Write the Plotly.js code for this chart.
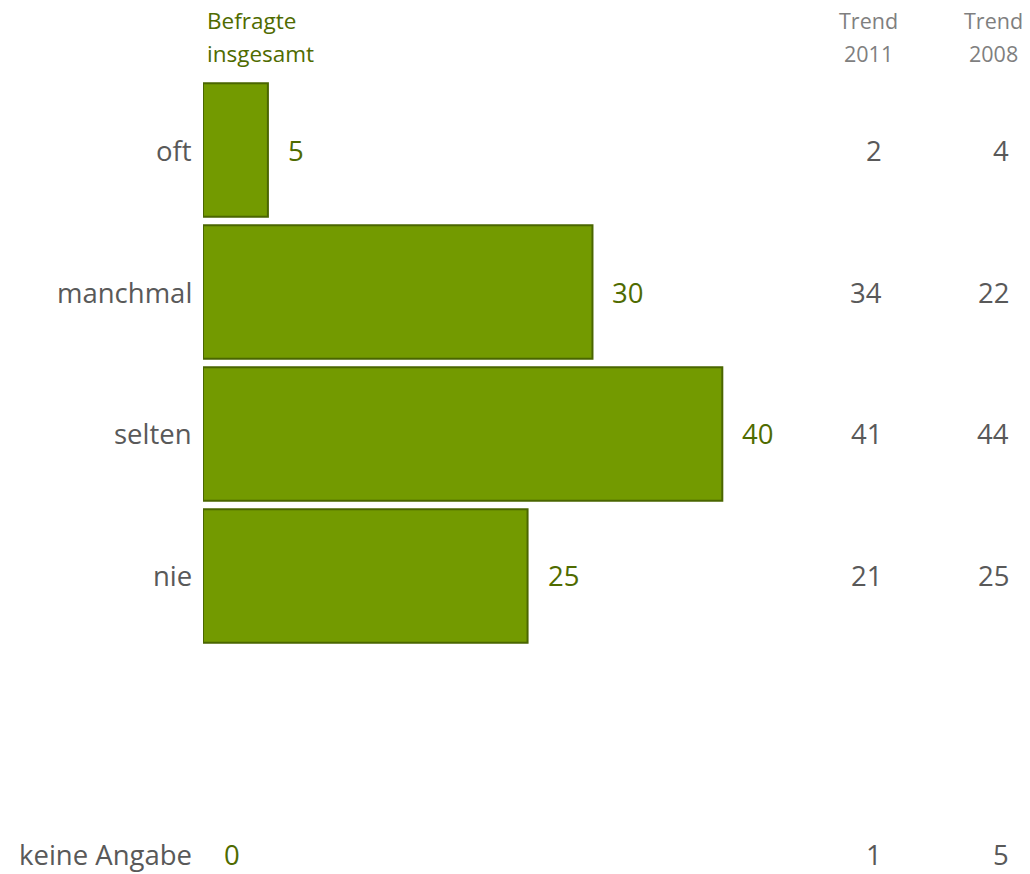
<!DOCTYPE html>
<html>
<head>
<meta charset="utf-8">
<script src="https://cdn.plot.ly/plotly-3.0.1.min.js"></script>
<style>html,body{margin:0;padding:0;background:#fff}#chart{width:1030px;height:874px}</style>
</head>
<body>
<div id="chart"></div>
<script>
const categories = ['oft', 'manchmal', 'selten', 'nie', 'keine Angabe'];
const totalValues = [5, 30, 40, 25, 0];
const trend2011 = [2, 34, 41, 21, 1];
const trend2008 = [4, 22, 44, 25, 5];
const headerTotal = ['Befragte', 'insgesamt'];
const header2011 = ['Trend', '2011'];
const header2008 = ['Trend', '2008'];
const categoryOrder = ['oft', 'manchmal', 'selten', 'nie', ' ', 'keine Angabe'];

const FONT = 'Open Sans, DejaVu Sans, sans-serif';
const GREEN_TEXT = '#4f6b00';
const GRAY = '#595959';
const LIGHT_GRAY = '#7f7f7f';
const VAL_SIZE = 27.5;

const annotations = [];
categories.forEach((c, i) => {
  const ys = (i === categories.length - 1) ? 5 : 0;
  annotations.push({
    x: 0, y: c, xref: 'paper', yref: 'y', yshift: ys,
    text: c, showarrow: false, xanchor: 'right', xshift: -9,
    font: {family: FONT, size: VAL_SIZE, color: GRAY}
  });
  annotations.push({
    x: totalValues[i], y: c, xref: 'x', yref: 'y', yshift: ys,
    text: String(totalValues[i]), showarrow: false,
    xanchor: 'left', xshift: totalValues[i] > 0 ? 18 : 19,
    font: {family: FONT, size: VAL_SIZE, color: GREEN_TEXT}
  });
  annotations.push({
    x: 0.823, y: c, xref: 'paper', yref: 'y', yshift: ys,
    text: String(trend2011[i]), showarrow: false, xanchor: 'right',
    font: {family: FONT, size: VAL_SIZE, color: GRAY}
  });
  annotations.push({
    x: 0.977, y: c, xref: 'paper', yref: 'y', yshift: ys,
    text: String(trend2008[i]), showarrow: false, xanchor: 'right',
    font: {family: FONT, size: VAL_SIZE, color: GRAY}
  });
});
const headerShifts = [52, 19];
headerTotal.forEach((t, k) => annotations.push({
  x: 0, y: 1, xref: 'x', yref: 'paper', text: t, showarrow: false,
  xanchor: 'left', yanchor: 'middle', xshift: 2, yshift: headerShifts[k],
  font: {family: FONT, size: 22.5, color: GREEN_TEXT}
}));
header2011.forEach((t, k) => annotations.push({
  x: 0.805, y: 1, xref: 'paper', yref: 'paper', text: t, showarrow: false,
  xanchor: 'center', yanchor: 'middle', yshift: headerShifts[k],
  font: {family: FONT, size: 21.5, color: LIGHT_GRAY}
}));
header2008.forEach((t, k) => annotations.push({
  x: 0.956, y: 1, xref: 'paper', yref: 'paper', text: t, showarrow: false,
  xanchor: 'center', yanchor: 'middle', yshift: headerShifts[k],
  font: {family: FONT, size: 21.5, color: LIGHT_GRAY}
}));

const data = [{
  type: 'bar', orientation: 'h',
  x: totalValues, y: categories,
  width: 0.94,
  marker: {
    color: '#739a00',
    line: {color: '#4a6600', width: totalValues.map(v => v > 0 ? 2 : 0)}
  },
  hoverinfo: 'skip'
}];

const layout = {
  width: 1030, height: 874,
  margin: {l: 203, r: 0, t: 72, b: 0},
  paper_bgcolor: '#fff', plot_bgcolor: '#fff',
  showlegend: false,
  xaxis: {range: [0, 63.7], showgrid: false, zeroline: false, showticklabels: false, showline: false, fixedrange: true},
  yaxis: {
    type: 'category', categoryorder: 'array', categoryarray: categoryOrder,
    range: [5.1, -0.55], showgrid: false, zeroline: false, showline: false,
    ticks: '', showticklabels: false, fixedrange: true
  },
  annotations: annotations
};

Plotly.newPlot('chart', data, layout, {displayModeBar: false, staticPlot: true});
</script>
</body>
</html>
